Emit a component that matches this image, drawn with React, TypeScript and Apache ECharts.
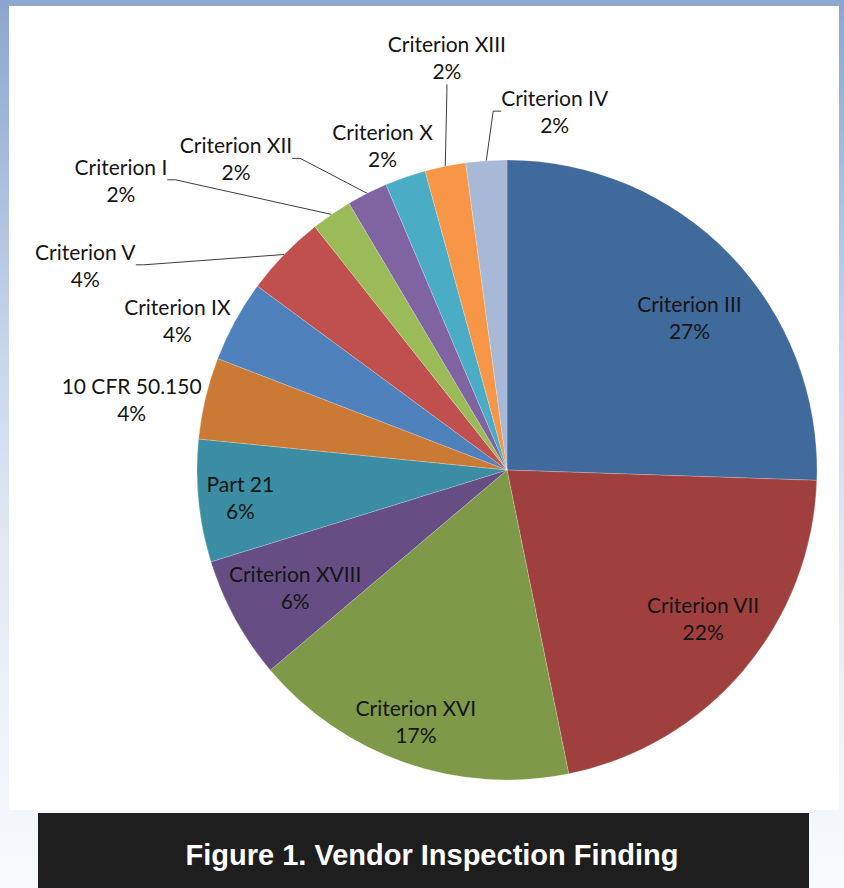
import React, { useEffect, useRef } from 'react';
import * as echarts from 'echarts';

// ---- data ----
const categories = [
  'Criterion III',
  'Criterion VII',
  'Criterion XVI',
  'Criterion XVIII',
  'Part 21',
  '10 CFR 50.150',
  'Criterion IX',
  'Criterion V',
  'Criterion I',
  'Criterion XII',
  'Criterion X',
  'Criterion XIII',
  'Criterion IV',
];
// finding counts
const counts = [12, 10, 8, 3, 3, 2, 2, 2, 1, 1, 1, 1, 1];
// percentages as printed on the chart
const shownPercents = [27, 22, 17, 6, 6, 4, 4, 4, 2, 2, 2, 2, 2];
const caption = 'Figure 1. Vendor Inspection Finding';

// ---- styles ----
const sliceColors = [
  '#40699C', '#A0403E', '#7E9A48', '#664E84', '#3A8DA3', '#CB7A35',
  '#4F81BD', '#C0504D', '#9BBB59', '#8064A2', '#4BACC6', '#F79646', '#A8B9D8',
];
const leaderLines = [false, false, false, false, false, false, false, true, true, true, false, true, true];
// label placement in polar form: distance from centre and turn from slice mid-angle (deg)
const labelPlacement = [
  { dist: 238, turn: 4.1 },
  { dist: 246, turn: -3.1 },
  { dist: 267, turn: 0.8 },
  { dist: 242, turn: -0.2 },
  { dist: 268, turn: -0.1 },
  { dist: 382, turn: -2.7 },
  { dist: 362, turn: -4.3 },
  { dist: 469, turn: -18.1 },
  { dist: 483, turn: -18.6 },
  { dist: 413, turn: -14.2 },
  { dist: 348, turn: -1.8 },
  { dist: 417, turn: 3.2 },
  { dist: 362, turn: 11.4 },
];

export default function App() {
  const ref = useRef<HTMLDivElement>(null);
  useEffect(() => {
    if (!ref.current) return;
    const chart = echarts.init(ref.current, null, { renderer: 'svg' });
    const CX = 507;
    const CY = 470;
    const R = 310;
    const total = counts.reduce((a, b) => a + b, 0);
    let acc = 0;
    const mids = counts.map((v) => {
      const m = ((acc + v / 2) / total) * 360;
      acc += v;
      return m;
    });

    chart.setOption({
      animation: false,
      graphic: [
        { type: 'rect', z: -10, shape: { x: 9, y: 6, width: 830, height: 804 }, style: { fill: '#ffffff' }, silent: true },
        { type: 'rect', z: -10, shape: { x: 38, y: 813, width: 771, height: 75 }, style: { fill: '#1E1E1E' }, silent: true },
        {
          type: 'text', z: 100, x: 432, y: 855, silent: true,
          style: {
            text: caption, fill: '#ffffff', font: 'bold 29px "Liberation Sans", Arial, sans-serif',
            align: 'center', verticalAlign: 'middle',
          },
        },
      ],
      series: [
        {
          type: 'pie',
          center: [CX, CY],
          radius: R,
          startAngle: 90,
          clockwise: true,
          avoidLabelOverlap: false,
          silent: true,
          itemStyle: { borderColor: 'rgba(255,255,255,0.35)', borderWidth: 0.6 },
          data: categories.map((name, i) => ({
            name,
            value: counts[i],
            itemStyle: { color: sliceColors[i] },
            label: { position: labelPlacement[i].dist < R ? 'inside' : 'outside' },
            labelLine: { show: leaderLines[i] },
          })),
          label: {
            show: true,
            formatter: (p: any) => `${p.name}\n${shownPercents[p.dataIndex]}%`,
            color: '#151515',
            fontFamily: 'Lato',
            fontSize: 21,
            lineHeight: 27,
            overflow: 'none',
            align: 'center',
          },
          labelLine: {
            length: 10,
            length2: 8,
            minTurnAngle: 0,
            lineStyle: { color: '#3C3C3C', width: 1 },
          },
          labelLayout: (p: any) => {
            const i = p.dataIndex;
            const pl = labelPlacement[i];
            const a = ((mids[i] + pl.turn) * Math.PI) / 180;
            return {
              x: CX + pl.dist * Math.sin(a),
              y: CY - pl.dist * Math.cos(a),
              align: 'center',
              verticalAlign: 'middle',
            };
          },
        },
      ],
    });
    return () => chart.dispose();
  }, []);

  return (
    <div
      style={{
        position: 'fixed',
        left: 0,
        top: 0,
        width: 844,
        height: 888,
        background:
          'linear-gradient(180deg, #8CA6CF 0%, #A6BBDC 18%, #C6D4EA 38%, #DEE6F2 58%, #EDF1F8 78%, #F8FAFD 100%)',
      }}
    >
      <div ref={ref} style={{ width: 844, height: 888 }} />
    </div>
  );
}
